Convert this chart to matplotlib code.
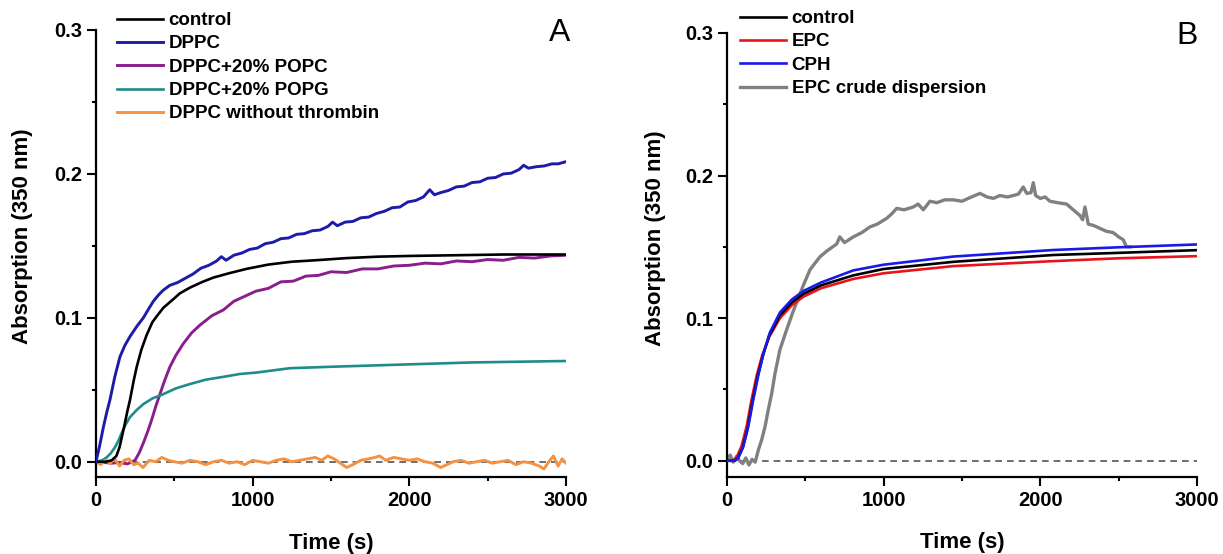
import matplotlib
matplotlib.use("Agg")
import matplotlib.pyplot as plt
from matplotlib.ticker import MultipleLocator, FormatStrFormatter

plt.rcParams['font.family'] = ['Liberation Sans', 'DejaVu Sans']
plt.rcParams['font.weight'] = 'bold'

# ---- panel A data ----
ctrl_a_t = [0, 60, 100, 130, 150, 175, 200, 217, 240, 260, 290, 323, 360, 387, 430, 494, 535, 600,
            680, 750, 850, 960, 1100, 1250, 1400, 1600, 1800, 2000, 2300, 2600, 3000]
ctrl_a_v = [0, 0, 0.001, 0.004, 0.010, 0.022, 0.035, 0.043, 0.056, 0.066, 0.078, 0.088, 0.097, 0.101,
            0.107, 0.113, 0.117, 0.121, 0.125, 0.128, 0.131, 0.134, 0.137, 0.139, 0.140, 0.1415, 0.1425,
            0.143, 0.1435, 0.144, 0.144]

dppc_t = [0, 25, 47, 70, 89, 120, 153, 185, 217, 260, 302, 335, 366, 400, 427, 470, 520, 570, 620, 670,
          720, 770, 800, 830, 880, 930, 980, 1030, 1080, 1130, 1180, 1230, 1280, 1330, 1380, 1430, 1480,
          1510, 1540, 1590, 1640, 1690, 1740, 1790, 1840, 1890, 1940, 1990, 2040, 2090, 2130, 2160, 2200,
          2250, 2300, 2350, 2400, 2450, 2500, 2550, 2600, 2650, 2700, 2730, 2760, 2810, 2860, 2910, 2950, 3000]
dppc_v = [0, 0.012, 0.024, 0.035, 0.043, 0.059, 0.073, 0.081, 0.087, 0.094, 0.100, 0.106, 0.1115, 0.116,
          0.119, 0.1225, 0.1245, 0.1275, 0.1305, 0.1345, 0.1365, 0.1395, 0.1425, 0.1400, 0.1435, 0.1450,
          0.1475, 0.1485, 0.1515, 0.1525, 0.1550, 0.1555, 0.1580, 0.1585, 0.1605, 0.1610, 0.1635, 0.1665,
          0.1640, 0.1665, 0.1670, 0.1695, 0.1700, 0.1725, 0.1740, 0.1765, 0.1770, 0.1805, 0.1815, 0.1840,
          0.1890, 0.1855, 0.1870, 0.1885, 0.1910, 0.1915, 0.1940, 0.1945, 0.1970, 0.1975, 0.2000, 0.2005,
          0.2030, 0.2060, 0.2040, 0.2050, 0.2055, 0.2070, 0.2070, 0.2085]

popc_t = [0, 100, 150, 200, 249, 275, 302, 330, 355, 380, 408, 440, 472, 510, 557, 610, 664, 740, 813,
          880, 940, 1020, 1100, 1180, 1260, 1340, 1420, 1500, 1600, 1700, 1800, 1900, 2000, 2100, 2200,
          2300, 2400, 2500, 2600, 2700, 2800, 2900, 3000]
popc_v = [0, -0.001, -0.0005, -0.0015, 0.001, 0.006, 0.013, 0.021, 0.029, 0.038, 0.047, 0.057, 0.066,
          0.074, 0.082, 0.0895, 0.095, 0.1015, 0.1055, 0.1115, 0.1145, 0.1185, 0.1205, 0.1250, 0.1255,
          0.1290, 0.1295, 0.1320, 0.1315, 0.1340, 0.1340, 0.1360, 0.1365, 0.1380, 0.1375, 0.1395, 0.1390,
          0.1405, 0.1400, 0.1420, 0.1415, 0.1430, 0.1435]

popg_t = [0, 40, 68, 95, 121, 145, 164, 190, 217, 260, 302, 360, 430, 510, 600, 700, 813, 920, 1026,
          1238, 1500, 1800, 2100, 2400, 2700, 3000]
popg_v = [0, 0.001, 0.003, 0.006, 0.010, 0.015, 0.020, 0.026, 0.031, 0.036, 0.040, 0.044, 0.047, 0.051,
          0.054, 0.057, 0.059, 0.061, 0.062, 0.065, 0.066, 0.067, 0.068, 0.069, 0.0695, 0.070]

nothr_t = [0, 30, 60, 90, 120, 150, 180, 210, 240, 270, 300, 340, 380, 420, 460, 500, 550, 600, 650, 700,
           750, 800, 850, 900, 950, 1000, 1050, 1100, 1150, 1200, 1250, 1300, 1350, 1400, 1440, 1480,
           1520, 1560, 1600, 1640, 1690, 1740, 1780, 1810, 1850, 1900, 1950, 2000, 2050, 2100, 2150, 2200,
           2240, 2280, 2330, 2380, 2430, 2480, 2530, 2580, 2630, 2680, 2730, 2780, 2830, 2860, 2890, 2920,
           2950, 2975, 3000]
nothr_v = [0.000, -0.002, 0.001, -0.001, 0.002, -0.003, 0.001, 0.002, -0.002, -0.001, -0.004, 0.001,
           0.000, 0.003, 0.001, 0.000, -0.001, 0.001, 0.000, -0.002, 0.000, 0.001, -0.001, 0.000, -0.002,
           0.001, 0.000, -0.001, 0.001, 0.002, 0.000, 0.001, 0.002, 0.003, 0.001, 0.004, 0.002, -0.001,
           -0.004, -0.002, 0.001, 0.002, 0.003, 0.004, 0.001, 0.003, 0.002, 0.001, 0.002, 0.000, -0.001,
           -0.004, -0.002, 0.000, 0.001, -0.001, 0.000, 0.001, -0.001, 0.000, 0.001, -0.002, 0.000, -0.001,
           -0.003, -0.005, 0.000, 0.004, -0.003, 0.002, -0.001]

# ---- panel B data ----
ctrl_b_t = [0, 50, 70, 100, 130, 160, 195, 230, 270, 338, 413, 487, 600, 806, 1000, 1444, 2082, 2500, 3000]
ctrl_b_v = [0, 0, 0.002, 0.009, 0.022, 0.040, 0.059, 0.074, 0.088, 0.102, 0.111, 0.117, 0.123, 0.130,
            0.1345, 0.1395, 0.1443, 0.1458, 0.1477]

epc_t = [0, 40, 60, 92, 125, 157, 190, 225, 270, 338, 413, 487, 600, 806, 1000, 1444, 2082, 2500, 3000]
epc_v = [0, 0, 0.002, 0.010, 0.024, 0.043, 0.060, 0.074, 0.087, 0.100, 0.109, 0.115, 0.121, 0.1275,
         0.1315, 0.1365, 0.140, 0.142, 0.1435]

cph_t = [0, 50, 72, 104, 136, 168, 200, 232, 274, 338, 413, 487, 600, 806, 1000, 1444, 2082, 2500, 3000]
cph_v = [0, 0, 0.002, 0.010, 0.024, 0.043, 0.060, 0.075, 0.090, 0.104, 0.113, 0.119, 0.125, 0.1335,
         0.1375, 0.1432, 0.1478, 0.1497, 0.1517]

crude_t = [0, 20, 40, 60, 80, 100, 120, 140, 160, 180, 200, 221, 243, 264, 285, 306, 338, 381, 423, 466,
           487, 530, 593, 636, 700, 720, 750, 806, 860, 913, 960, 1019, 1050, 1083, 1130, 1189, 1220, 1253,
           1295, 1340, 1390, 1444, 1500, 1560, 1615, 1660, 1700, 1742, 1790, 1827, 1860, 1891, 1913, 1940,
           1955, 1970, 2000, 2030, 2061, 2110, 2168, 2210, 2253, 2270, 2285, 2306, 2340, 2380, 2420, 2465,
           2500, 2529, 2550, 2572]
crude_v = [0.001, 0.004, -0.001, 0.003, 0.000, -0.002, 0.002, -0.003, 0.001, -0.001, 0.0075, 0.0145,
           0.024, 0.036, 0.047, 0.061, 0.078, 0.092, 0.105, 0.117, 0.123, 0.134, 0.143, 0.147, 0.152,
           0.157, 0.153, 0.157, 0.160, 0.164, 0.166, 0.170, 0.173, 0.177, 0.176, 0.178, 0.180, 0.176,
           0.182, 0.181, 0.183, 0.183, 0.182, 0.185, 0.1875, 0.185, 0.184, 0.186, 0.185, 0.186, 0.187,
           0.192, 0.1875, 0.188, 0.195, 0.186, 0.184, 0.185, 0.182, 0.181, 0.180, 0.176, 0.172, 0.169,
           0.178, 0.166, 0.165, 0.163, 0.161, 0.160, 0.157, 0.155, 0.150, 0.150]

W, H = 1223, 554
fig = plt.figure(figsize=(W / 100, H / 100), dpi=100)
axA = fig.add_axes([96 / W, 77 / H, 470 / W, 447 / H])
axB = fig.add_axes([727 / W, 77 / H, 470 / W, 444 / H])


def style_axis(ax, ymin):
    ax.set_xlim(0, 3000)
    ax.set_ylim(ymin, 0.3)
    for side in ['top', 'right']:
        ax.spines[side].set_visible(False)
    for side in ['left', 'bottom']:
        ax.spines[side].set_linewidth(1.6)
    ax.xaxis.set_major_locator(MultipleLocator(1000))
    ax.xaxis.set_minor_locator(MultipleLocator(500))
    ax.yaxis.set_major_locator(MultipleLocator(0.1))
    ax.yaxis.set_minor_locator(MultipleLocator(0.05))
    ax.yaxis.set_major_formatter(FormatStrFormatter('%.1f'))
    ax.tick_params(which='major', length=6.3, width=1.5, labelsize=14.5, pad=3.5, direction='out')
    ax.tick_params(which='minor', length=3.2, width=1.5, direction='out')
    ax.axhline(0, color='#555555', ls=(0, (4, 3)), lw=1.2, zorder=0)
    ax.set_xlabel('Time (s)', fontsize=16, fontweight='bold')
    ax.set_ylabel('Absorption (350 nm)', fontsize=16, fontweight='bold')


style_axis(axA, -0.0106)
style_axis(axB, -0.0114)

lw = 1.9
axA.plot(ctrl_a_t, ctrl_a_v, color='black', lw=lw, label='control', zorder=3)
axA.plot(dppc_t, dppc_v, color='#1c1ca8', lw=2.1, label='DPPC', zorder=3)
axA.plot(popc_t, popc_v, color='#8a1e8e', lw=2.1, label='DPPC+20% POPC', zorder=2)
axA.plot(popg_t, popg_v, color='#1f8c8a', lw=lw, label='DPPC+20% POPG', zorder=2)
axA.plot(nothr_t, nothr_v, color='#f59140', lw=2.1, label='DPPC without thrombin', zorder=2)

axB.plot(ctrl_b_t, ctrl_b_v, color='black', lw=lw, label='control', zorder=3)
axB.plot(epc_t, epc_v, color='#e8141c', lw=lw, label='EPC', zorder=2)
axB.plot(cph_t, cph_v, color='#1a1ae8', lw=lw, label='CPH', zorder=4)
axB.plot(crude_t, crude_v, color='#808080', lw=2.4, label='EPC crude dispersion', zorder=1)

leg_kw = dict(loc='upper left', frameon=False, borderpad=0, borderaxespad=0,
              handlelength=2.45, handletextpad=0.3, labelspacing=0.33,
              prop={'size': 13.5, 'weight': 'bold'}, bbox_transform=fig.transFigure)
axA.legend(bbox_to_anchor=(117 / W, 1 - 12 / H), **leg_kw)
axB.legend(bbox_to_anchor=(740 / W, 1 - 10 / H), **leg_kw)

for ax, xc, yc in [(axA, -0.157, 0.539), (axB, -0.153, 0.538)]:
    ax.yaxis.set_label_coords(xc, yc)
    ax.yaxis.label.set_va('center')
    ax.xaxis.set_label_coords(0.5, -0.148)
    ax.xaxis.label.set_va('center')

fig.text(560 / W, 1 - 33 / H, 'A', fontsize=23, fontweight='normal', ha='center', va='center')
fig.text(1187 / W, 1 - 36 / H, 'B', fontsize=23, fontweight='normal', ha='center', va='center')

fig.savefig('out.png', dpi=100)
